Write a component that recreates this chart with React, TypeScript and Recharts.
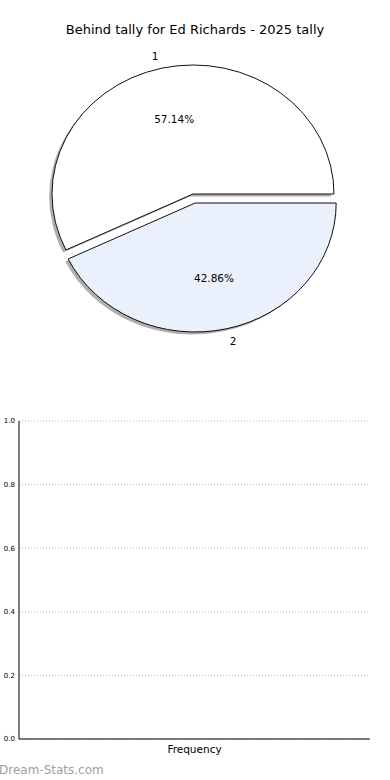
import React from 'react';
import { PieChart, Pie, Cell, BarChart, Bar, XAxis, YAxis, CartesianGrid } from 'recharts';

const sliceNames = ['1', '2'];
const sliceValues = [4, 3];
const sliceColors = ['#ffffff', '#eaf0fc'];

const freqCategories = ['Frequency'];
const freqValues = [0];
const yTicks = [0, 0.2, 0.4, 0.6, 0.8, 1.0];

const pieData = sliceNames.map((name, i) => ({ name, value: sliceValues[i] }));
const barData = freqCategories.map((name, i) => ({ name, value: freqValues[i] }));

const FONT = '"DejaVu Sans", Verdana, sans-serif';
const RX = 141;
const RY = 129;
const SX = RX / RY;
const PIE_X = 193;
// exploded centres of each wedge (before the horizontal stretch)
const centers = [
  { cx: 193, cy: 194 },
  { cx: 195, cy: 203 },
];
const NO_MARGIN = { top: 0, right: 0, bottom: 0, left: 0 };

// labels are drawn unstretched, so the ellipse is applied to positions only
const makeLabel = (only: number) => (props: any) => {
  const { cx, cy, midAngle, outerRadius, percent, index, name } = props;
  if (index !== only) return null;
  const rad = (Math.PI / 180) * midAngle;
  const cos = Math.cos(rad);
  const sin = Math.sin(rad);
  const ox = cx + outerRadius * 1.1 * cos * SX;
  const oy = cy - outerRadius * 1.1 * sin;
  const ix = cx + outerRadius * 0.6 * cos * SX;
  const iy = cy - outerRadius * 0.6 * sin;
  return (
    <g>
      <text
        x={ox}
        y={oy}
        textAnchor={cos < 0 ? 'end' : 'start'}
        dominantBaseline="central"
        fontSize={10.5}
        fontFamily={FONT}
        fill="#000"
      >
        {name}
      </text>
      <text
        x={ix}
        y={iy}
        textAnchor="middle"
        dominantBaseline="central"
        fontSize={10.5}
        fontFamily={FONT}
        fill="#000"
      >
        {(percent * 100).toFixed(2) + '%'}
      </text>
    </g>
  );
};

export default function App() {
  return (
    <div style={{ position: 'absolute', left: 0, top: 0, width: 390, height: 780, background: '#fff', overflow: 'hidden' }}>
      <div
        style={{
          position: 'absolute',
          left: 0,
          top: 22,
          width: 390,
          textAlign: 'center',
          fontFamily: FONT,
          fontSize: 13,
          lineHeight: '16px',
          color: '#000',
        }}
      >
        Behind tally for Ed Richards - 2025 tally
      </div>

      {/* wedges, stretched horizontally into an ellipse */}
      <div style={{ position: 'absolute', left: 0, top: 0, transform: `scaleX(${SX})`, transformOrigin: `${PIE_X}px 0px` }}>
        <PieChart width={390} height={400} margin={NO_MARGIN}>
          {centers.map((c, k) => (
            <Pie
              key={'shadow' + k}
              data={pieData}
              dataKey="value"
              nameKey="name"
              cx={c.cx - 2.6}
              cy={c.cy + 2.6}
              outerRadius={RY}
              startAngle={0}
              endAngle={360}
              label={false}
              labelLine={false}
              isAnimationActive={false}
            >
              {pieData.map((_, i) => (
                <Cell key={i} fill={i === k ? '#4d4d4d' : 'none'} fillOpacity={0.45} stroke="none" />
              ))}
            </Pie>
          ))}
          {centers.map((c, k) => (
            <Pie
              key={'slice' + k}
              data={pieData}
              dataKey="value"
              nameKey="name"
              cx={c.cx}
              cy={c.cy}
              outerRadius={RY}
              startAngle={0}
              endAngle={360}
              label={false}
              labelLine={false}
              isAnimationActive={false}
            >
              {pieData.map((_, i) => (
                <Cell
                  key={i}
                  fill={i === k ? sliceColors[i] : 'none'}
                  stroke={i === k ? '#000' : 'none'}
                  strokeWidth={0.9}
                />
              ))}
            </Pie>
          ))}
        </PieChart>
      </div>

      {/* labels overlay, not stretched */}
      <div style={{ position: 'absolute', left: 0, top: 0 }}>
        <PieChart width={390} height={400} margin={NO_MARGIN}>
          {centers.map((c, k) => (
            <Pie
              key={'label' + k}
              data={pieData}
              dataKey="value"
              nameKey="name"
              cx={PIE_X + (c.cx - PIE_X) * SX}
              cy={c.cy}
              outerRadius={RY}
              startAngle={0}
              endAngle={360}
              fill="none"
              stroke="none"
              label={makeLabel(k)}
              labelLine={false}
              isAnimationActive={false}
            >
              {pieData.map((_, i) => (
                <Cell key={i} fill="none" stroke="none" />
              ))}
            </Pie>
          ))}
        </PieChart>
      </div>

      <div style={{ position: 'absolute', left: 0, top: 400 }}>
        <BarChart width={390} height={380} data={barData} margin={{ top: 21, right: 20, bottom: 21, left: 0 }}>
          <CartesianGrid vertical={false} stroke="#bbbbbb" strokeDasharray="1 2" />
          <XAxis
            dataKey="name"
            stroke="#000"
            tickLine={false}
            tickSize={0}
            tickMargin={7}
            height={20}
            tick={{ fontSize: 10.5, fontFamily: FONT, fill: '#000' }}
          />
          <XAxis xAxisId="top" dataKey="name" orientation="top" height={0} tick={false} tickLine={false} stroke="#000" />
          <YAxis
            domain={[0, 1]}
            ticks={yTicks}
            width={19}
            stroke="#000"
            tickLine={false}
            tickSize={0}
            tickMargin={4}
            tickFormatter={(v: number) => v.toFixed(1)}
            tick={{ fontSize: 7, fontFamily: FONT, fill: '#000' }}
          />
          <YAxis yAxisId="right" orientation="right" width={0} tick={false} tickLine={false} stroke="#000" />
          <Bar dataKey="value" fill="#eaf0fc" isAnimationActive={false} />
        </BarChart>
      </div>

      <div
        style={{
          position: 'absolute',
          left: -1,
          top: 762,
          fontFamily: FONT,
          fontSize: 12,
          lineHeight: '16px',
          color: '#a0a0a0',
        }}
      >
        Dream-Stats.com
      </div>
    </div>
  );
}
